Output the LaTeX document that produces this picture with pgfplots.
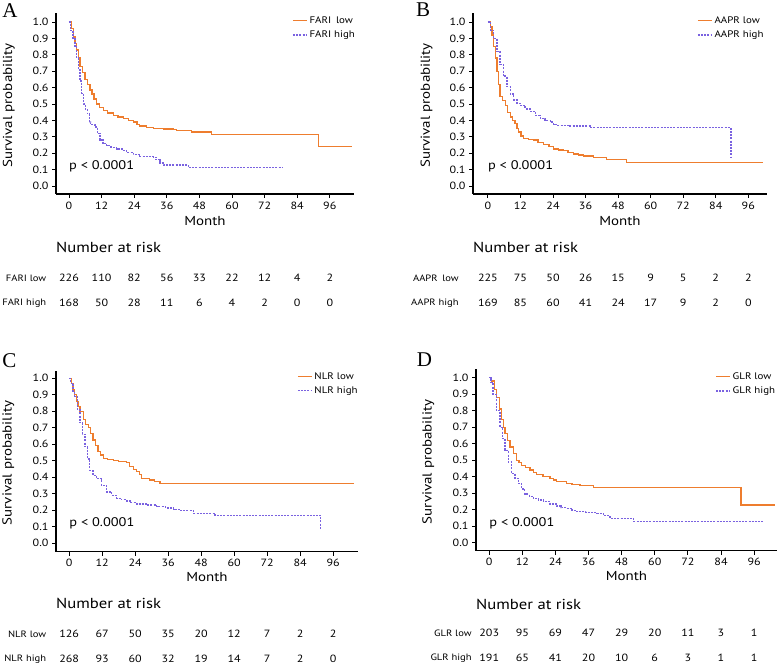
\documentclass[border=0pt]{standalone}
\usepackage{fontspec}
\setmainfont{PT Sans}[FakeStretch=1.15]
\newfontfamily\letterfont{Liberation Serif}
\usepackage{pgfplots}
\pgfplotsset{compat=1.18}

\definecolor{kmorange}{HTML}{EE7D2E}
\definecolor{kmpurple}{HTML}{7A62E0}

\newcommand\tickfont{\fontsize{10.5}{12}\selectfont}
\newcommand\labfont{\fontsize{13}{15}\selectfont}
\newcommand\riskfont{\fontsize{10.5}{12}\selectfont}
\newcommand\rowfont{\fontsize{9.2}{11}\selectfont}
\newcommand\titlefont{\fontsize{14.5}{16}\selectfont}
\newcommand\pfont{\fontsize{12.5}{14}\selectfont}
\newcommand\legfont{\fontsize{9.5}{11}\selectfont}

\pgfplotsset{
  km/.style={
    scale only axis,
    axis lines=left,
    axis line style={-, line width=1.1pt},
    tick align=outside,
    major tick length=4pt,
    tick style={line width=0.9pt, black},
    xtick={0,12,24,36,48,60,72,84,96},
    ytick={0,0.1,0.2,0.3,0.4,0.5,0.6,0.7,0.8,0.9,1.0},
    /pgf/number format/assume math mode=true,
    yticklabel style={/pgf/number format/fixed,
      /pgf/number format/fixed zerofill,
      /pgf/number format/precision=1},
    ticklabel style={font=\tickfont},
    xlabel=Month,
    ylabel=Survival probability,
    label style={font=\labfont},
    ylabel style={at={(axis description cs:-0.158,0.49)}, anchor=center},
    clip=false,
    legend style={draw=none, fill=none, font=\legfont, anchor=north west,
      inner sep=0pt, row sep=2pt, nodes={inner sep=2pt}},
    legend cell align=left,
    legend image code/.code={\draw[#1] (0pt,0pt) -- (14pt,0pt);},
  },
  lowc/.style={color=kmorange, line width=1.3pt, const plot, no marks},
  highc/.style={color=kmpurple, line width=1.3pt, dash pattern=on 2pt off 1.2pt, const plot, no marks},
  riskrow/.style={draw=none, forget plot, no marks, nodes near coords,
    point meta=explicit symbolic,
    every node near coord/.style={anchor=center, black, font=\riskfont, inner sep=0pt}},
}

\begin{document}
\begin{tikzpicture}
\path[use as bounding box] (0pt,0pt) rectangle (778pt,666pt);

% ---------------- A ----------------
\begin{axis}[km, at={(56pt,472pt)}, anchor=south west, width=298pt, height=181pt,
  xmin=-4.78, xmax=104.9, ymin=-0.049, ymax=1.055,
  xlabel style={at={(axis description cs:0.5,-0.147)}, anchor=center},
  legend style={at={(axis cs:82.1,1.046)}}]
\addplot[lowc] coordinates {
(0,1.0) (0.8,0.98) (1.0,0.96) (1.6,0.91) (2.2,0.87) (2.8,0.83) (3.4,0.78)
(4.0,0.73) (4.9,0.69) (5.9,0.65) (6.8,0.62) (7.7,0.585) (8.5,0.56) (9.2,0.53)
(10.2,0.50) (11.3,0.48) (12.6,0.46) (14.3,0.445) (16.3,0.43) (18.0,0.42)
(20.0,0.41) (22.0,0.40) (23.7,0.39) (25.0,0.375) (26.0,0.365) (28.5,0.357)
(31.0,0.35) (35.0,0.348) (38.4,0.345) (39.5,0.338) (45.0,0.33) (52.5,0.315)
(91.8,0.24) (104.0,0.24)};
\addplot[highc] coordinates {
(0,1.0) (0.6,0.95) (1.5,0.9) (2.2,0.85) (2.8,0.78) (3.4,0.71) (4.0,0.64)
(4.7,0.565) (5.3,0.50) (6.0,0.47) (6.7,0.44) (7.5,0.39) (8.0,0.375) (9.6,0.36)
(10.5,0.32) (11.4,0.28) (12.5,0.26) (13.9,0.245) (15.5,0.235) (17.5,0.225)
(19.5,0.215) (21.2,0.205) (23.7,0.19) (26.0,0.18) (31.0,0.175) (32.0,0.16)
(33.5,0.14) (34.7,0.128) (43.9,0.112) (78.9,0.112)};
\legend{FARI\enspace low, FARI high}
\node[anchor=west, font=\pfont, inner sep=0pt] at (axis cs:0,0.122) {p < 0.0001};
\node[anchor=west, font=\titlefont, inner sep=0pt] at (axis cs:-4.78,-0.372) {Number at risk};
\node[anchor=east, font=\rowfont, inner sep=0pt] at (axis cs:-8.3,-0.561) {FARI low};
\node[anchor=east, font=\rowfont, inner sep=0pt] at (axis cs:-8.3,-0.713) {FARI high};
\addplot[riskrow] coordinates {(0,-0.561)[226] (12,-0.561)[110] (24,-0.561)[82]
  (36,-0.561)[56] (48,-0.561)[33] (60,-0.561)[22] (72,-0.561)[12] (84,-0.561)[4] (96,-0.561)[2]};
\addplot[riskrow] coordinates {(0,-0.713)[168] (12,-0.713)[50] (24,-0.713)[28]
  (36,-0.713)[11] (48,-0.713)[6] (60,-0.713)[4] (72,-0.713)[2] (84,-0.713)[0] (96,-0.713)[0]};
\end{axis}

% ---------------- B ----------------
\begin{axis}[km, at={(473pt,472pt)}, anchor=south west, width=294pt, height=181pt,
  xmin=-5.5, xmax=102.9, ymin=-0.049, ymax=1.055,
  xlabel style={at={(axis description cs:0.5,-0.147)}, anchor=center},
  legend style={at={(axis cs:77.1,1.046)}}]
\addplot[lowc] coordinates {
(0,1.0) (0.9,0.97) (1.5,0.92) (2.1,0.85) (2.7,0.78) (3.3,0.70) (3.9,0.62)
(4.5,0.545) (5.4,0.52) (6.4,0.49) (7.3,0.45) (8.2,0.42) (9.1,0.40) (10.0,0.38)
(10.7,0.35) (11.3,0.33) (12.2,0.305) (13.1,0.29) (15.0,0.285) (16.8,0.28)
(18.5,0.265) (20.5,0.255) (22.5,0.24) (24.2,0.225) (26.0,0.22) (27.9,0.215)
(29.5,0.205) (31.5,0.195) (33.5,0.188) (35.2,0.183) (38.9,0.175) (43.8,0.16)
(51.2,0.142) (101.5,0.142)};
\addplot[highc] coordinates {
(0,1.0) (1.0,0.95) (2.1,0.9) (3.3,0.82) (4.5,0.74) (5.7,0.67) (7.0,0.605)
(8.2,0.56) (9.5,0.525) (10.7,0.505) (11.9,0.49) (13.7,0.47) (15.6,0.455)
(17.5,0.43) (19.3,0.41) (21.0,0.40) (23.0,0.39) (24.2,0.375) (25.4,0.37)
(30.3,0.365) (37.7,0.355) (89.6,0.17)};
\legend{AAPR low, AAPR high}
\node[anchor=west, font=\pfont, inner sep=0pt] at (axis cs:0,0.122) {p < 0.0001};
\node[anchor=west, font=\titlefont, inner sep=0pt] at (axis cs:-5.5,-0.372) {Number at risk};
\node[anchor=east, font=\rowfont, inner sep=0pt] at (axis cs:-10.7,-0.561) {AAPR\enspace low};
\node[anchor=east, font=\rowfont, inner sep=0pt] at (axis cs:-10.7,-0.713) {AAPR high};
\addplot[riskrow] coordinates {(0,-0.561)[225] (12,-0.561)[75] (24,-0.561)[50]
  (36,-0.561)[26] (48,-0.561)[15] (60,-0.561)[9] (72,-0.561)[5] (84,-0.561)[2] (96,-0.561)[2]};
\addplot[riskrow] coordinates {(0,-0.713)[169] (12,-0.713)[85] (24,-0.713)[60]
  (36,-0.713)[41] (48,-0.713)[24] (60,-0.713)[17] (72,-0.713)[9] (84,-0.713)[2] (96,-0.713)[0]};
\end{axis}

% ---------------- C ----------------
\begin{axis}[km, at={(56pt,114.3pt)}, anchor=south west, width=302pt, height=181pt,
  xmin=-4.8, xmax=105, ymin=-0.053, ymax=1.046,
  xlabel style={at={(axis description cs:0.5,-0.138)}, anchor=center},
  legend style={at={(axis cs:82.8,1.049)}}]
\addplot[lowc] coordinates {
(0,1.0) (0.8,0.97) (1.4,0.93) (2.0,0.9) (2.6,0.86) (3.2,0.83) (3.9,0.8)
(5.1,0.75) (6.0,0.72) (6.9,0.70) (7.8,0.665) (8.7,0.625) (9.6,0.59) (10.5,0.555)
(11.5,0.535) (12.4,0.515) (14.0,0.505) (16.0,0.50) (18.0,0.495) (20.8,0.49)
(22.0,0.465) (23.5,0.445) (24.5,0.435) (25.5,0.415) (26.3,0.393) (29.3,0.383)
(31.0,0.375) (33.0,0.36) (103.5,0.36)};
\addplot[highc] coordinates {
(0,1.0) (0.5,0.97) (1.4,0.92) (2.0,0.89) (3.0,0.81) (3.9,0.73) (4.8,0.66)
(5.7,0.585) (6.6,0.51) (7.5,0.44) (8.7,0.41) (9.9,0.39) (11.7,0.35) (13.6,0.31)
(15.5,0.29) (17.2,0.27) (19.0,0.262) (20.8,0.255) (22.5,0.245) (24.5,0.237)
(28.0,0.23) (31.8,0.22) (35.0,0.212) (38.0,0.205) (40.2,0.196) (45.1,0.18)
(53.0,0.168) (91.4,0.08)};
\legend{NLR low, NLR high}
\node[anchor=west, font=\pfont, inner sep=0pt] at (axis cs:0,0.12) {p < 0.0001};
\node[anchor=west, font=\titlefont, inner sep=0pt] at (axis cs:-4.8,-0.37) {Number at risk};
\node[anchor=east, font=\rowfont, inner sep=0pt] at (axis cs:-8.3,-0.553) {NLR low};
\node[anchor=east, font=\rowfont, inner sep=0pt] at (axis cs:-8.3,-0.704) {NLR high};
\addplot[riskrow] coordinates {(0,-0.553)[126] (12,-0.553)[67] (24,-0.553)[50]
  (36,-0.553)[35] (48,-0.553)[20] (60,-0.553)[12] (72,-0.553)[7] (84,-0.553)[2] (96,-0.553)[2]};
\addplot[riskrow] coordinates {(0,-0.704)[268] (12,-0.704)[93] (24,-0.704)[60]
  (36,-0.704)[32] (48,-0.704)[19] (60,-0.704)[14] (72,-0.704)[7] (84,-0.704)[2] (96,-0.704)[0]};
\end{axis}

% ---------------- D ----------------
\begin{axis}[km, at={(476pt,115.3pt)}, anchor=south west, width=301pt, height=181.4pt,
  xmin=-4.8, xmax=104.3, ymin=-0.048, ymax=1.051,
  xlabel style={at={(axis description cs:0.5,-0.138)}, anchor=center},
  legend style={at={(axis cs:81.9,1.045)}}]
\addplot[lowc] coordinates {
(0,1.0) (0.8,0.98) (1.8,0.93) (2.7,0.88) (3.6,0.81) (4.5,0.745) (5.1,0.70)
(5.7,0.66) (6.6,0.62) (7.5,0.58) (8.7,0.54) (9.9,0.50) (10.8,0.485) (11.7,0.47)
(13.2,0.455) (14.8,0.44) (16.0,0.425) (17.2,0.415) (19.5,0.40) (22.0,0.39)
(23.2,0.38) (24.4,0.37) (28.0,0.36) (30.0,0.352) (32.9,0.347) (37.7,0.335)
(91.2,0.228) (103.6,0.228)};
\addplot[highc] coordinates {
(0,1.0) (0.6,0.97) (1.4,0.9) (2.6,0.8) (3.9,0.70) (4.8,0.63) (5.7,0.56)
(6.9,0.49) (8.1,0.42) (9.3,0.39) (10.5,0.36) (11.7,0.325) (12.9,0.295)
(14.5,0.282) (16.0,0.27) (17.8,0.26) (19.6,0.25) (22.0,0.235) (24.4,0.222)
(26.0,0.213) (28.0,0.208) (30.0,0.197) (31.7,0.188) (35.0,0.182) (39.0,0.178)
(41.5,0.165) (43.8,0.148) (52.2,0.128) (99.4,0.128)};
\legend{GLR low, GLR high}
\node[anchor=west, font=\pfont, inner sep=0pt] at (axis cs:0,0.12) {p < 0.0001};
\node[anchor=west, font=\titlefont, inner sep=0pt] at (axis cs:-4.8,-0.372) {Number at risk};
\node[anchor=east, font=\rowfont, inner sep=0pt] at (axis cs:-6.3,-0.547) {GLR low};
\node[anchor=east, font=\rowfont, inner sep=0pt] at (axis cs:-6.3,-0.699) {GLR high};
\addplot[riskrow] coordinates {(0,-0.547)[203] (12,-0.547)[95] (24,-0.547)[69]
  (36,-0.547)[47] (48,-0.547)[29] (60,-0.547)[20] (72,-0.547)[11] (84,-0.547)[3] (96,-0.547)[1]};
\addplot[riskrow] coordinates {(0,-0.699)[191] (12,-0.699)[65] (24,-0.699)[41]
  (36,-0.699)[20] (48,-0.699)[10] (60,-0.699)[6] (72,-0.699)[3] (84,-0.699)[1] (96,-0.699)[1]};
\end{axis}

% panel letters
\node[font=\letterfont\fontsize{21}{24}\selectfont, inner sep=0pt] at (10pt,655.5pt) {A};
\node[font=\letterfont\fontsize{21}{24}\selectfont, inner sep=0pt] at (423pt,656pt) {B};
\node[font=\letterfont\fontsize{21}{24}\selectfont, inner sep=0pt] at (9.5pt,305.5pt) {C};
\node[font=\letterfont\fontsize{21}{24}\selectfont, inner sep=0pt] at (424.5pt,306.5pt) {D};
\end{tikzpicture}
\end{document}
